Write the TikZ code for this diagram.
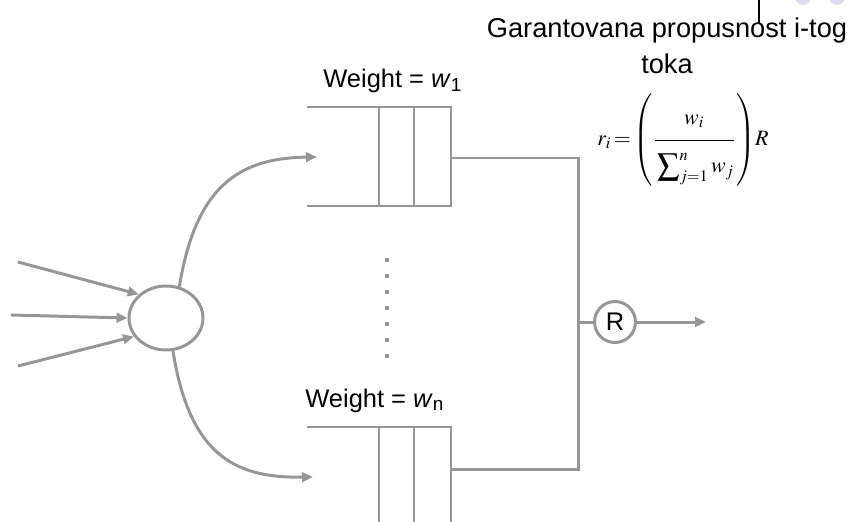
\documentclass[tikz,border=0pt]{standalone}
\usepackage{mathptmx}
\usepackage[no-math]{fontspec}
\setmainfont{Liberation Sans}
\usetikzlibrary{shapes.geometric, arrows.meta}

\definecolor{linegray}{RGB}{150,150,150}
\definecolor{dotlilac}{RGB}{222,222,242}

\begin{document}
\begin{tikzpicture}[
            x=0.02cm, y=-0.02cm,
            every node/.style={font=\fontsize{14.5}{17}\selectfont},
            line/.style={draw=linegray, line width=1.7pt},
            arrow/.style={line, -{Triangle[length=0.22cm, width=0.19cm]}},
            queue/.style={draw=linegray, line width=1.5pt},
            label/.style={anchor=base west, inner sep=0pt},
            mux/.style={
                ellipse,
                draw=linegray,
                line width=1.7pt,
                minimum width=1.48cm,
                minimum height=1.28cm,
                inner sep=0pt
            },
            link/.style={
                circle,
                draw=linegray,
                line width=1.7pt,
                minimum size=0.82cm,
                inner sep=0pt
            }
        ]

        \useasboundingbox (0,0) rectangle (864,521);

        % corner decoration of the slide
        \fill[dotlilac] (803,-3) circle (8) (837,-3) circle (8);
        \draw[black, line width=0.6pt] (759,0) -- (759,23);

        % Nodes
        \node[mux] (sched) at (166,318) {};
        \node[link] (R) at (615,322) {R};
        \coordinate (join) at (578,322);
        \coordinate (out) at (706,322);

        \node[label] (w1) at (323,87) {Weight = \textit{w}\textsubscript{1}};
        \node[label] (wn) at (305,407) {Weight = \textit{w}\textsubscript{n}};

        \node[align=center, anchor=north, inner sep=0pt,
              font=\fontsize{15.5}{20.5}\selectfont] (title) at (667,17)
            {Garantovana propusnost i-tog\\toka};

        \node[inner sep=0pt, font=\fontsize{12.5}{15}\selectfont] (rate) at (683,140)
            {$\displaystyle r_i\mkern-2mu=\mkern-2mu\left(\frac{w_i\rule[-7pt]{0pt}{8pt}}
             {\rule{0pt}{17pt}\displaystyle\sum\nolimits_{j=1}^{n} w_j}\right)\!R$};

        % Queues
        \foreach \t/\n in {107/1, 427/2} {
            \draw[queue] (307,\t) -- (451,\t) -- (451,\t+99) -- (307,\t+99);
            \draw[queue] (379,\t) -- (379,\t+99) (414,\t) -- (414,\t+99);
        }
        \coordinate (q1in) at (317,157);
        \coordinate (q2in) at (313,477);
        \coordinate (q1out) at (451,158);
        \coordinate (q2out) at (451,469);

        % dots between the queues
        \foreach \y in {260,276,...,356}
            \fill[linegray] (385.2,\y-1.8) rectangle (388.8,\y+1.8);

        % Arrows
        \coordinate (in1) at (18,262);
        \coordinate (in2) at (11,315);
        \coordinate (in3) at (18,366);
        \draw[arrow] (in1) -- (sched.139);
        \draw[arrow] (in2) -- (sched.180);
        \draw[arrow] (in3) -- (sched.210);

        \draw[arrow] (sched.67) .. controls (196,185) and (240,158) .. (q1in);
        \draw[arrow] (sched.282) .. controls (190,460) and (240,478) .. (q2in);

        \draw[line] (q1out) -| (join);
        \draw[line] (q2out) -| (join);
        \draw[line] (join) -- (R);
        \draw[arrow] (R) -- (out);

        \end{tikzpicture}
\end{document}
